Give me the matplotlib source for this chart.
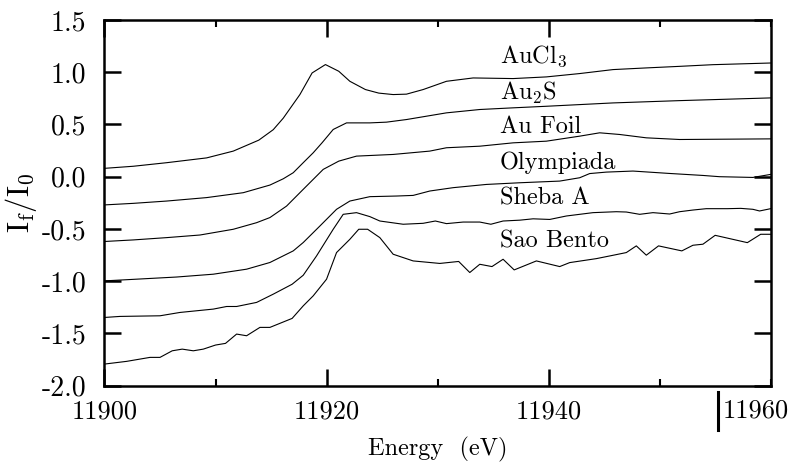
import matplotlib
matplotlib.use('Agg')
import matplotlib.pyplot as plt
from matplotlib.ticker import MultipleLocator

plt.rcParams['font.family'] = 'cmr10'
plt.rcParams['mathtext.fontset'] = 'cm'
plt.rcParams['axes.unicode_minus'] = False

# ---- data (energy in eV, normalised intensity) ----
aucl3_e = [11900.0, 11902.6, 11905.6, 11909.2, 11911.6, 11913.9, 11915.2, 11916.1,
           11917.6, 11918.7, 11919.9, 11921.1, 11922.1, 11923.5, 11924.7, 11926.0,
           11927.2, 11928.7, 11930.8, 11933.2, 11936.8, 11939.8, 11942.8, 11945.8,
           11948.8, 11951.8, 11954.8, 11960.0]
aucl3_y = [0.08, 0.10, 0.134, 0.18, 0.245, 0.35, 0.45, 0.56,
           0.786, 0.993, 1.073, 1.009, 0.913, 0.834, 0.80, 0.786,
           0.79, 0.834, 0.913, 0.945, 0.939, 0.955, 0.987, 1.025,
           1.041, 1.056, 1.072, 1.088]

au2s_e = [11900.0, 11902.6, 11905.6, 11909.2, 11912.5, 11914.9, 11916.1, 11917.0,
          11917.9, 11918.8, 11919.6, 11920.6, 11921.8, 11923.9, 11925.4, 11927.2,
          11930.8, 11933.8, 11936.8, 11939.8, 11945.8, 11951.8, 11960.0]
au2s_y = [-0.27, -0.255, -0.233, -0.20, -0.153, -0.08, -0.02, 0.038,
          0.134, 0.229, 0.325, 0.452, 0.515, 0.515, 0.522, 0.547,
          0.611, 0.643, 0.659, 0.674, 0.706, 0.728, 0.754]

aufoil_e = [11900.0, 11902.6, 11905.6, 11908.6, 11911.6, 11913.7, 11914.9, 11916.4,
            11917.9, 11919.7, 11921.1, 11922.7, 11926.0, 11929.3, 11930.8, 11933.8,
            11936.8, 11939.8, 11942.8, 11944.6, 11946.4, 11948.8, 11951.8, 11960.0]
aufoil_y = [-0.62, -0.605, -0.583, -0.558, -0.503, -0.44, -0.391, -0.281,
            -0.121, 0.07, 0.149, 0.197, 0.213, 0.245, 0.277, 0.292,
            0.324, 0.34, 0.388, 0.42, 0.404, 0.372, 0.356, 0.362]

olymp_e = [11900.0, 11903.0, 11906.5, 11909.8, 11912.8, 11914.9, 11917.0, 11917.9,
           11919.4, 11920.9, 11922.1, 11923.9, 11926.3, 11927.8, 11929.3, 11931.4,
           11934.4, 11937.4, 11941.0, 11942.8, 11943.7, 11945.2, 11947.6, 11950.9,
           11953.9, 11955.4, 11958.4, 11960.0]
olymp_y = [-0.997, -0.98, -0.96, -0.933, -0.885, -0.821, -0.71, -0.63,
           -0.472, -0.312, -0.233, -0.191, -0.185, -0.179, -0.137, -0.105,
           -0.074, -0.058, -0.042, -0.01, 0.03, 0.044, 0.054, 0.031,
           0.012, 0.0, -0.007, 0.022]

sheba_e = [11900.0, 11901.4, 11905.0, 11906.8, 11909.8, 11911.0, 11911.9, 11913.7,
           11915.2, 11916.9, 11917.9, 11919.1, 11920.6, 11921.5, 11922.7, 11923.9,
           11924.8, 11926.9, 11928.7, 11929.8, 11930.8, 11932.3, 11933.8, 11934.8,
           11935.9, 11937.4, 11938.6, 11940.1, 11941.6, 11944.0, 11946.1, 11947.0,
           11948.2, 11949.4, 11950.9, 11951.8, 11953.0, 11954.2, 11956.1, 11957.3,
           11958.4, 11959.0, 11960.0]
sheba_y = [-1.347, -1.337, -1.331, -1.299, -1.267, -1.242, -1.242, -1.203,
           -1.124, -1.029, -0.943, -0.758, -0.503, -0.36, -0.344, -0.382,
           -0.424, -0.455, -0.446, -0.424, -0.449, -0.434, -0.434, -0.455,
           -0.424, -0.416, -0.403, -0.409, -0.376, -0.344, -0.335, -0.338,
           -0.36, -0.344, -0.357, -0.335, -0.319, -0.306, -0.306, -0.303,
           -0.312, -0.328, -0.306]

sao_e = [11900.0, 11902.0, 11904.1, 11905.0, 11906.1, 11907.0, 11908.0, 11908.9,
         11910.0, 11910.9, 11911.9, 11912.8, 11914.0, 11914.9, 11916.9, 11917.9,
         11918.8, 11920.0, 11920.9, 11922.1, 11922.9, 11923.7, 11924.8, 11926.0,
         11927.8, 11930.2, 11931.9, 11932.9, 11933.8, 11934.9, 11935.9, 11936.9,
         11938.9, 11941.0, 11941.9, 11944.3, 11945.8, 11947.0, 11947.9, 11948.8,
         11949.9, 11952.0, 11953.0, 11953.9, 11955.0, 11957.9, 11959.1, 11960.0]
sao_y = [-1.793, -1.767, -1.729, -1.729, -1.666, -1.65, -1.666, -1.65,
         -1.611, -1.595, -1.506, -1.522, -1.442, -1.442, -1.356, -1.236,
         -1.14, -0.981, -0.726, -0.599, -0.503, -0.503, -0.583, -0.742,
         -0.806, -0.83, -0.811, -0.917, -0.838, -0.86, -0.79, -0.892,
         -0.806, -0.86, -0.822, -0.784, -0.752, -0.726, -0.662, -0.751,
         -0.662, -0.71, -0.656, -0.646, -0.561, -0.631, -0.551, -0.551]

series = [
    (aucl3_e, aucl3_y, r'AuCl$_3$', 1.15),
    (au2s_e, au2s_y, r'Au$_2$S', 0.805),
    (aufoil_e, aufoil_y, 'Au Foil', 0.48),
    (olymp_e, olymp_y, 'Olympiada', 0.137),
    (sheba_e, sheba_y, 'Sheba A', -0.208),
    (sao_e, sao_y, 'Sao Bento', -0.618),
]

y_ticks = [-2.0, -1.5, -1.0, -0.5, 0.0, 0.5, 1.0, 1.5]
x_ticks = [11900, 11920, 11940]

fig = plt.figure(figsize=(7.88, 4.75), dpi=100)
ax = fig.add_axes([0.1326, 0.188, 0.8454, 0.770])

for e, y, name, ylab in series:
    ax.plot(e, y, '-', color='black', linewidth=0.8)
    ax.text(11935.6, ylab, name, fontsize=17.5, ha='left', va='center')

ax.set_xlim(11900, 11960)
ax.set_ylim(-2.0, 1.5)

ax.set_xticks(x_ticks)
ax.set_xticklabels([str(t) for t in x_ticks])
ax.xaxis.set_minor_locator(MultipleLocator(10))
ax.set_yticks(y_ticks)
ax.set_yticklabels([f'{t:.1f}' for t in y_ticks])

ax.tick_params(axis='both', which='major', direction='in', length=12, width=1.8,
               top=True, right=True)
ax.tick_params(axis='both', which='minor', direction='in', length=5, width=1.5,
               top=True, right=True)
ax.tick_params(axis='x', which='major', pad=10, labelsize=19)
ax.tick_params(axis='y', which='major', pad=13, labelsize=20)
for s in ax.spines.values():
    s.set_linewidth(1.8)

# odd last tick label with a bar in front of it
ax.text(11955.7, -0.068, '11960', transform=ax.get_xaxis_transform(),
        fontsize=19, ha='left', va='center')
ax.plot([11955.3, 11955.3], [-0.017, -0.121], color='black', linewidth=2.2,
        transform=ax.get_xaxis_transform(), clip_on=False)

ax.set_xlabel('Energy  (eV)', fontsize=17.5, labelpad=10)
ax.set_ylabel(r'$\mathrm{I_f/I_0}$', fontsize=22, labelpad=2)

plt.savefig('out.png', dpi=100)
